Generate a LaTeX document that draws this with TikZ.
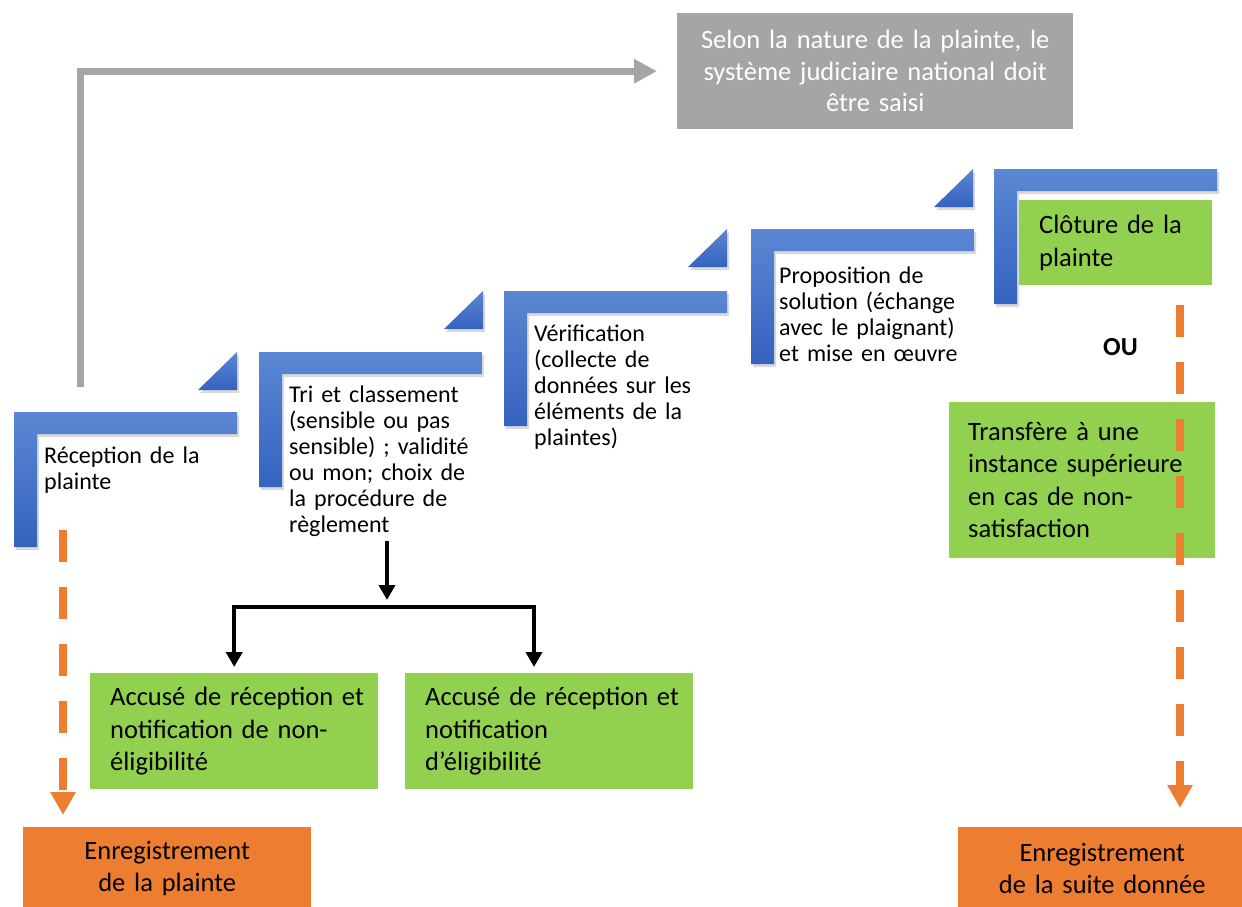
\documentclass[tikz,border=0pt]{standalone}
\usepackage{fontspec}
\setmainfont{Carlito}
\usepackage{xcolor}
\usepackage{tikz}
\usetikzlibrary{arrows.meta,positioning,calc,shadows}
\definecolor{stepTop}{HTML}{5B87D3}
\definecolor{stepBot}{HTML}{3562BF}
\definecolor{leafGreen}{HTML}{92D050}
\definecolor{regOrange}{HTML}{ED7D31}
\definecolor{courtGray}{HTML}{A5A5A5}

\tikzset{
  stepbar/.style={top color=stepTop, bottom color=stepBot,
    drop shadow={shadow xshift=2pt, shadow yshift=-3pt, opacity=.3}},
  steptext/.style={anchor=base west, inner sep=0pt, align=left, text width=#1,
    font=\fontsize{24}{26}\selectfont},
  greenbox/.style n args={2}{fill=leafGreen, anchor=north west, inner xsep=20pt,
    inner ysep=0pt, text width=#1, minimum height=#2, align=left,
    font=\fontsize{26.5}{32.5}\selectfont},
  regbox/.style={fill=regOrange, anchor=north west, inner xsep=20pt, inner ysep=0pt,
    text width=248pt, minimum height=83pt, align=center,
    font=\fontsize{26.5}{31.5}\selectfont},
  courtbox/.style={fill=courtGray, text=white, anchor=north west, inner xsep=20pt,
    inner ysep=0pt, text width=356pt, minimum height=116pt, align=center,
    font=\fontsize{26.5}{31.5}\selectfont},
  courtarrow/.style={draw=courtGray, line width=7pt,
    -{Triangle[length=23pt,width=23pt]}},
  regdash/.style={draw=regOrange, line width=8pt, dash pattern=on 32pt off 25pt,
    -{Triangle[length=23pt,width=24pt]}},
  treearrow/.style={draw=black, line width=4.5pt,
    -{Triangle[length=15pt,width=16pt]}}
}

\begin{document}
\begin{tikzpicture}[x=1pt, y=-1pt]
  \useasboundingbox (0,0) rectangle (1242,907);

  % blue steps
  \foreach \sx/\sy in {14/412, 259/352, 504/291, 751/229, 994/169}
    \path[stepbar] (\sx,\sy) -- ++(223,0) -- ++(0,22) -- ++(-200,0)
      -- ++(0,113) -- ++(-23,0) -- cycle;
  \foreach \tx/\ty in {237/352, 483/291, 727/229, 973/169}
    \path[stepbar] (\tx,\ty) -- ++(0,38) -- ++(-39,0) -- cycle;

  % step labels
  \node[steptext=190pt] (recep) at (44,463) {Réception de la\\plainte};
  \node[steptext=190pt] (tri) at (289,402) {Tri et classement\\(sensible ou pas\\sensible) ; validité\\ou mon; choix de\\la procédure de\\règlement};
  \node[steptext=190pt] (verif) at (534,341) {Vérification\\(collecte de\\données sur les\\éléments de la\\plaintes)};
  \node[steptext=200pt] (propo) at (779,283) {Proposition de\\solution (échange\\avec le plaignant)\\et mise en œuvre};
  \node[greenbox={153pt}{85pt}] (cloture) at (1019,200) {Clôture de la\\plainte};

  % outcome boxes
  \node[greenbox={248pt}{116pt}] (accnon) at (90,673) {\mbox{Accusé de réception et}\\notification de non-\\éligibilité};
  \node[greenbox={248pt}{116pt}] (accel) at (405,673) {\mbox{Accusé de réception et}\\notification\\d’éligibilité};
  \node[greenbox={228pt}{156pt}, inner xsep=19pt] (transf) at (949,402) {Transfère à une\\instance supérieure\\en cas de non-\\satisfaction};
  \node[font=\bfseries\fontsize{26}{30}\selectfont, anchor=base west, inner sep=0pt] (ou) at (1103,355) {OU};
  \node[courtbox] (judic) at (677,13) {Selon la nature de la plainte, le\\système judiciaire national doit\\être saisi};
  \node[regbox] (enregA) at (23,827) {Enregistrement\\de la plainte};
  \node[regbox] (enregB) at (958,827) {Enregistrement\\de la suite donnée};

  % gray path to the courts
  \coordinate (gstart) at (80,387);
  \draw[courtarrow, shorten >=20pt] (gstart) |- (judic.west);

  % orange dashed registrations
  \coordinate (oA) at (63,530);
  \coordinate (oB) at (1180,305);
  \draw[regdash, shorten >=12pt] (oA) -- (oA |- enregA.north);
  \draw[regdash, shorten >=19pt] (oB) -- (oB |- enregB.north);

  % sorting tree
  \coordinate (triout) at (387,541);
  \coordinate (split) at (387,607);
  \coordinate (brB) at (534,667);
  \draw[treearrow] (triout) -- ([yshift=7pt]split);
  \draw[treearrow] (split) -| ([yshift=6pt]accnon.north);
  \draw[treearrow] (split) -| (brB);
\end{tikzpicture}
\end{document}
